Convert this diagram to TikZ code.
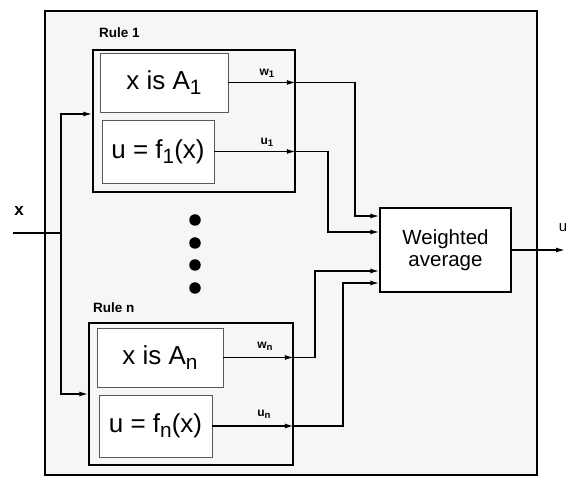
\documentclass[tikz,border=0pt]{standalone}
\usepackage{fontspec}
\usepackage{graphicx}
\setmainfont{Liberation Sans}
\usetikzlibrary{arrows.meta}
\newcommand\lsub[1]{\raisebox{-0.35ex}{\scalebox{0.8}{#1}}}
\begin{document}
\begin{tikzpicture}[x=1pt,y=-1pt,
 frame/.style={draw=black, line width=1.8pt, fill=gray!7},
 rulebox/.style={draw=black, line width=1.5pt, fill=gray!7, inner sep=0pt},
 inbox/.style={draw=gray!70!black, line width=0.9pt, fill=white, inner sep=0pt, font=\fontsize{26}{30}\selectfont},
 wabox/.style={draw=black, line width=1.4pt, fill=white, align=center, font=\fontsize{20.5}{22}\selectfont, inner sep=0pt},
 wire/.style={line width=1.4pt},
 arr/.style={wire, -{Latex[length=9pt,width=5pt]}},
 rlabel/.style={font=\bfseries\fontsize{13.5}{15}\selectfont, anchor=west, inner sep=0pt},
 slabel/.style={font=\bfseries\fontsize{12}{13}\selectfont, inner sep=0pt},
 dotc/.style={fill=black, circle, minimum size=11.5pt, inner sep=0pt},
 biglabel/.style={font=\bfseries\fontsize{17}{19}\selectfont, inner sep=0pt}]
\useasboundingbox (0,0) rectangle (566,481);

\node[frame, minimum width=492pt, minimum height=464pt] (outer) at (291,243) {};

\node[rulebox, minimum width=202pt, minimum height=142pt] (r1) at (194,121) {};
\node[rulebox, minimum width=204pt, minimum height=142pt] (rn) at (191,394) {};

\node[inbox, minimum width=128pt, minimum height=59pt] (a1) at (164,82.5) {x is A\lsub{1}};
\node[inbox, minimum width=112pt, minimum height=63pt] (f1) at (158,151.5) {u = f\lsub{1}(x)};
\node[inbox, minimum width=126pt, minimum height=59pt] (an) at (160,357.5) {x is A\lsub{n}};
\node[inbox, minimum width=113pt, minimum height=62pt] (fn) at (155.5,426) {u = f\lsub{n}(x)};

\node[wabox, minimum width=131pt, minimum height=84pt] (wa) at (445.5,250) {Weighted\\average};

\node[rlabel] (l1) at (99,33) {Rule 1};
\node[rlabel] (ln) at (93,308) {Rule n};

\node[slabel] (lw1) at (267,73) {w\lsub{1}};
\node[slabel] (lu1) at (267,142) {u\lsub{1}};
\node[slabel] (lwn) at (265,346) {w\lsub{n}};
\node[slabel] (lun) at (264,414) {u\lsub{n}};

\node[dotc] (d1) at (195,220) {};
\node[dotc] (d2) at (195,243) {};
\node[dotc] (d3) at (195,265) {};
\node[dotc] (d4) at (195,288) {};

% input
\coordinate (xin) at (13,233);
\coordinate (xj) at (61,233);
\node[biglabel] (xl) at (19,211) {x};
\path (r1.west) ++(0,-7) coordinate (t1);
\draw[wire] (xin) -- (xj);
\draw[arr] (xj) |- (t1);
\draw[arr] (xj) |- (rn.west);

% rule outputs
\draw[arr] (a1.east) -- (a1.east -| r1.east);
\draw[arr] (f1.east) -- (f1.east -| r1.east);
\draw[arr] (an.east) -- (an.east -| rn.east);
\draw[arr] (fn.east) -- (fn.east -| rn.east);

\coordinate (k1) at (355,216);
\coordinate (k2) at (328,232);
\coordinate (k3) at (315,271);
\coordinate (k4) at (343,283);
\draw[arr] (a1.east -| r1.east) -| (k1) -- (k1 -| wa.west);
\draw[arr] (f1.east -| r1.east) -| (k2) -- (k2 -| wa.west);
\draw[arr] (an.east -| rn.east) -| (k3) -- (k3 -| wa.west);
\draw[arr] (fn.east -| rn.east) -| (k4) -- (k4 -| wa.west);

% output
\coordinate (uout) at (565,248);
\draw[arr] (wa.east) -- (wa.east -| uout);
\node[biglabel, font=\fontsize{15}{16}\selectfont] (ul) at (563,228) {u};
\end{tikzpicture}
\end{document}
